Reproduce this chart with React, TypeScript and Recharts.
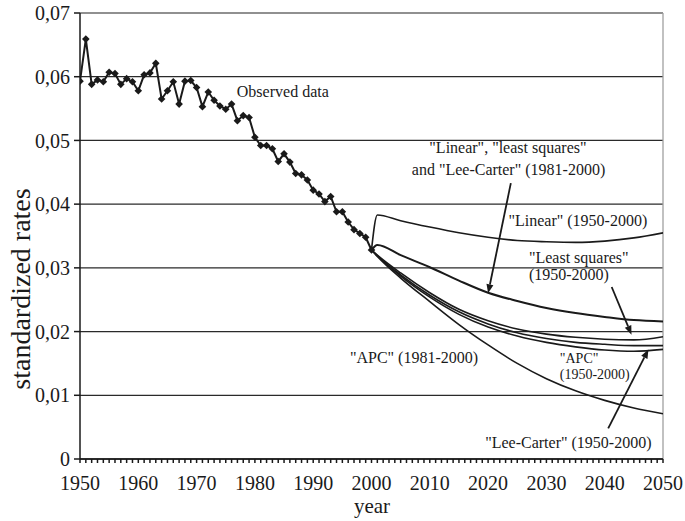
import React from 'react'
import {
  LineChart,
  Line,
  XAxis,
  YAxis,
  CartesianGrid,
  ReferenceLine,
  ReferenceDot,
} from 'recharts'

const FONT = "'Liberation Serif', 'Times New Roman', Times, serif"
const INK = '#1a1a1a'

// observed standardized rates, 1950-2000
const observedYears = [
  1950, 1951, 1952, 1953, 1954, 1955, 1956, 1957, 1958, 1959,
  1960, 1961, 1962, 1963, 1964, 1965, 1966, 1967, 1968, 1969,
  1970, 1971, 1972, 1973, 1974, 1975, 1976, 1977, 1978, 1979,
  1980, 1981, 1982, 1983, 1984, 1985, 1986, 1987, 1988, 1989,
  1990, 1991, 1992, 1993, 1994, 1995, 1996, 1997, 1998, 1999,
  2000,
]
const observed = [
  0.0593, 0.0659, 0.0588, 0.0595, 0.0592, 0.0607, 0.0605, 0.0588, 0.0597, 0.0592,
  0.0578, 0.0603, 0.0606, 0.0621, 0.0565, 0.0578, 0.0592, 0.0557, 0.0593, 0.0594,
  0.0583, 0.0553, 0.0576, 0.0563, 0.0554, 0.0549, 0.0557, 0.0531, 0.0539, 0.0536,
  0.0505, 0.0492, 0.0492, 0.0487, 0.0467, 0.0479, 0.0466, 0.0448, 0.0446, 0.0438,
  0.0422, 0.0416, 0.0404, 0.0412, 0.0388, 0.0388, 0.0372, 0.036, 0.0354, 0.0348,
  0.0328,
]

// projections
const projectionYears = [2000, 2001, 2005, 2010, 2015, 2020, 2025, 2030, 2035, 2040, 2045, 2050]
const linear5000 = [0.0328, 0.0383, 0.0374, 0.0364, 0.0355, 0.0348, 0.0343, 0.0341, 0.034, 0.0342, 0.0347, 0.0355]
const group8100 = [0.0328, 0.0336, 0.032, 0.0301, 0.028, 0.0261, 0.0248, 0.0237, 0.0229, 0.0223, 0.0218, 0.0216]
const lsq5000 = [0.0328, 0.032, 0.0292, 0.0261, 0.0235, 0.0217, 0.0204, 0.0196, 0.0191, 0.0188, 0.0187, 0.0192]
const apc5000 = [0.0328, 0.0319, 0.0289, 0.0257, 0.0231, 0.0212, 0.0198, 0.0189, 0.0183, 0.018, 0.0178, 0.0178]
const lc5000 = [0.0328, 0.0319, 0.0287, 0.0254, 0.0227, 0.0207, 0.0193, 0.0183, 0.0176, 0.0171, 0.0169, 0.0172]
const apc8100 = [0.0328, 0.0318, 0.0284, 0.0247, 0.0211, 0.0179, 0.015, 0.0126, 0.0107, 0.0092, 0.008, 0.0071]

const decadeTicks = [1950, 1960, 1970, 1980, 1990, 2000, 2010, 2020, 2030, 2040, 2050]
const yearTicks = Array.from({ length: 101 }, (_, i) => 1950 + i)
const rateTicks = [0, 0.01, 0.02, 0.03, 0.04, 0.05, 0.06, 0.07]

const projections: Record<string, number[]> = {
  linear5000,
  group8100,
  lsq5000,
  apc5000,
  lc5000,
  apc8100,
}

const byYear = new Map<number, Record<string, number>>()
const rowFor = (year: number) => {
  if (!byYear.has(year)) byYear.set(year, { year })
  return byYear.get(year)!
}
observedYears.forEach((y, i) => {
  rowFor(y).observed = observed[i]
})
projectionYears.forEach((y, i) => {
  Object.keys(projections).forEach((k) => {
    rowFor(y)[k] = projections[k][i]
  })
})
const data = [...byYear.values()].sort((a, b) => a.year - b.year)

// annotations, in data coordinates
const notes = [
  { text: 'Observed data', x: 1976.9, y: 0.0568, anchor: 'start', size: 16 },
  { text: '"Linear", "least squares"', x: 2023.4, y: 0.048, anchor: 'middle', size: 16 },
  { text: 'and "Lee-Carter" (1981-2000)', x: 2023.5, y: 0.0446, anchor: 'middle', size: 16 },
  { text: '"Linear" (1950-2000)', x: 2035.4, y: 0.0365, anchor: 'middle', size: 16 },
  { text: '"Least squares"', x: 2027.0, y: 0.0308, anchor: 'start', size: 16 },
  { text: '(1950-2000)', x: 2027.0, y: 0.0281, anchor: 'start', size: 16 },
  { text: '"APC" (1981-2000)', x: 1996.3, y: 0.0151, anchor: 'start', size: 16 },
  { text: '"APC"', x: 2032.3, y: 0.015, anchor: 'start', size: 14 },
  { text: '(1950-2000)', x: 2032.3, y: 0.0125, anchor: 'start', size: 14 },
  { text: '"Lee-Carter" (1950-2000)', x: 2019.5, y: 0.0017, anchor: 'start', size: 16 },
]

const arrows = [
  { from: [2023.9, 0.0433], to: [2020.0, 0.026] },
  { from: [2041.2, 0.027], to: [2044.6, 0.0195] },
  { from: [2040.6, 0.0048], to: [2047.5, 0.0172] },
]

const Diamond = (props: any) => {
  const { cx, cy } = props
  if (cx == null || cy == null) return <g />
  const r = 3.8
  return (
    <path
      d={`M${cx},${cy - r}L${cx + r},${cy}L${cx},${cy + r}L${cx - r},${cy}Z`}
      fill={INK}
    />
  )
}

const ArrowShape = (p: any) => {
  const { x1, y1, x2, y2 } = p
  const a = Math.atan2(y2 - y1, x2 - x1)
  const len = 9
  const half = 3.5
  const bx = x2 - len * Math.cos(a)
  const by = y2 - len * Math.sin(a)
  const pts = `${x2},${y2} ${bx - half * Math.sin(a)},${by + half * Math.cos(a)} ${
    bx + half * Math.sin(a)
  },${by - half * Math.cos(a)}`
  return (
    <g>
      <line x1={x1} y1={y1} x2={bx} y2={by} stroke={INK} strokeWidth={1.8} />
      <polygon points={pts} fill={INK} />
    </g>
  )
}

const YearTick = (props: any) => {
  const { x, y, payload } = props
  if (payload.value % 10 !== 0) return <g />
  return (
    <text x={x} y={y} dy="0.71em" textAnchor="middle" fontFamily={FONT} fontSize={20} fill={INK}>
      {payload.value}
    </text>
  )
}

const fmtRate = (v: number) => (v === 0 ? '0' : v.toFixed(2).replace('.', ','))

export default function App() {
  return (
    <div style={{ position: 'absolute', left: 0, top: 0, width: 685, height: 521, background: '#fff' }}>
      <LineChart
        width={685}
        height={521}
        data={data}
        margin={{ top: 13, right: 22, left: 0, bottom: 0 }}
      >
        <CartesianGrid vertical={false} stroke="#2a2a2a" strokeWidth={1.3} />
        <ReferenceLine y={0.07} stroke="#a0a0a0" strokeWidth={1.3} />
        <ReferenceLine x={2050} stroke="#a0a0a0" strokeWidth={1.3} />
        <XAxis
          dataKey="year"
          type="number"
          domain={[1950, 2050]}
          ticks={yearTicks}
          interval={0}
          tick={<YearTick />}
          tickSize={4}
          tickMargin={13}
          height={62}
          stroke={INK}
          strokeWidth={1.5}
          allowDataOverflow
        />
        <YAxis
          domain={[0, 0.07]}
          ticks={rateTicks}
          tickFormatter={fmtRate}
          width={80}
          tickSize={6}
          tickMargin={4}
          stroke={INK}
          strokeWidth={1.5}
          tick={{ fill: INK, fontFamily: FONT, fontSize: 20 }}
        />
        <Line
          dataKey="observed"
          stroke={INK}
          strokeWidth={2}
          dot={<Diamond />}
          isAnimationActive={false}
          connectNulls
        />
        {Object.keys(projections).map((k) => (
          <Line
            key={k}
            dataKey={k}
            type="monotone"
            stroke={INK}
            strokeWidth={k === 'group8100' ? 2 : 1.6}
            dot={false}
            isAnimationActive={false}
            connectNulls
          />
        ))}
        {arrows.map((a, i) => (
          <ReferenceLine
            key={'arrow' + i}
            segment={[
              { x: a.from[0], y: a.from[1] },
              { x: a.to[0], y: a.to[1] },
            ]}
            ifOverflow="visible"
            shape={ArrowShape}
          />
        ))}
        {notes.map((n, i) => (
          <ReferenceDot
            key={'note' + i}
            x={n.x}
            y={n.y}
            r={0}
            ifOverflow="visible"
            shape={(p: any) => (
              <text
                x={p.cx}
                y={p.cy}
                textAnchor={n.anchor as any}
                fontFamily={FONT}
                fontSize={n.size}
                fill={INK}
              >
                {n.text}
              </text>
            )}
          />
        ))}
      </LineChart>
      <svg
        width={685}
        height={521}
        style={{ position: 'absolute', left: 0, top: 0, pointerEvents: 'none' }}
      >
        <text
          x={30}
          y={289}
          transform="rotate(-90 30 289)"
          textAnchor="middle"
          fontFamily={FONT}
          fontSize={28}
          fill={INK}
        >
          standardized rates
        </text>
        <text x={372} y={513} textAnchor="middle" fontFamily={FONT} fontSize={21} fill={INK}>
          year
        </text>
      </svg>
    </div>
  )
}
